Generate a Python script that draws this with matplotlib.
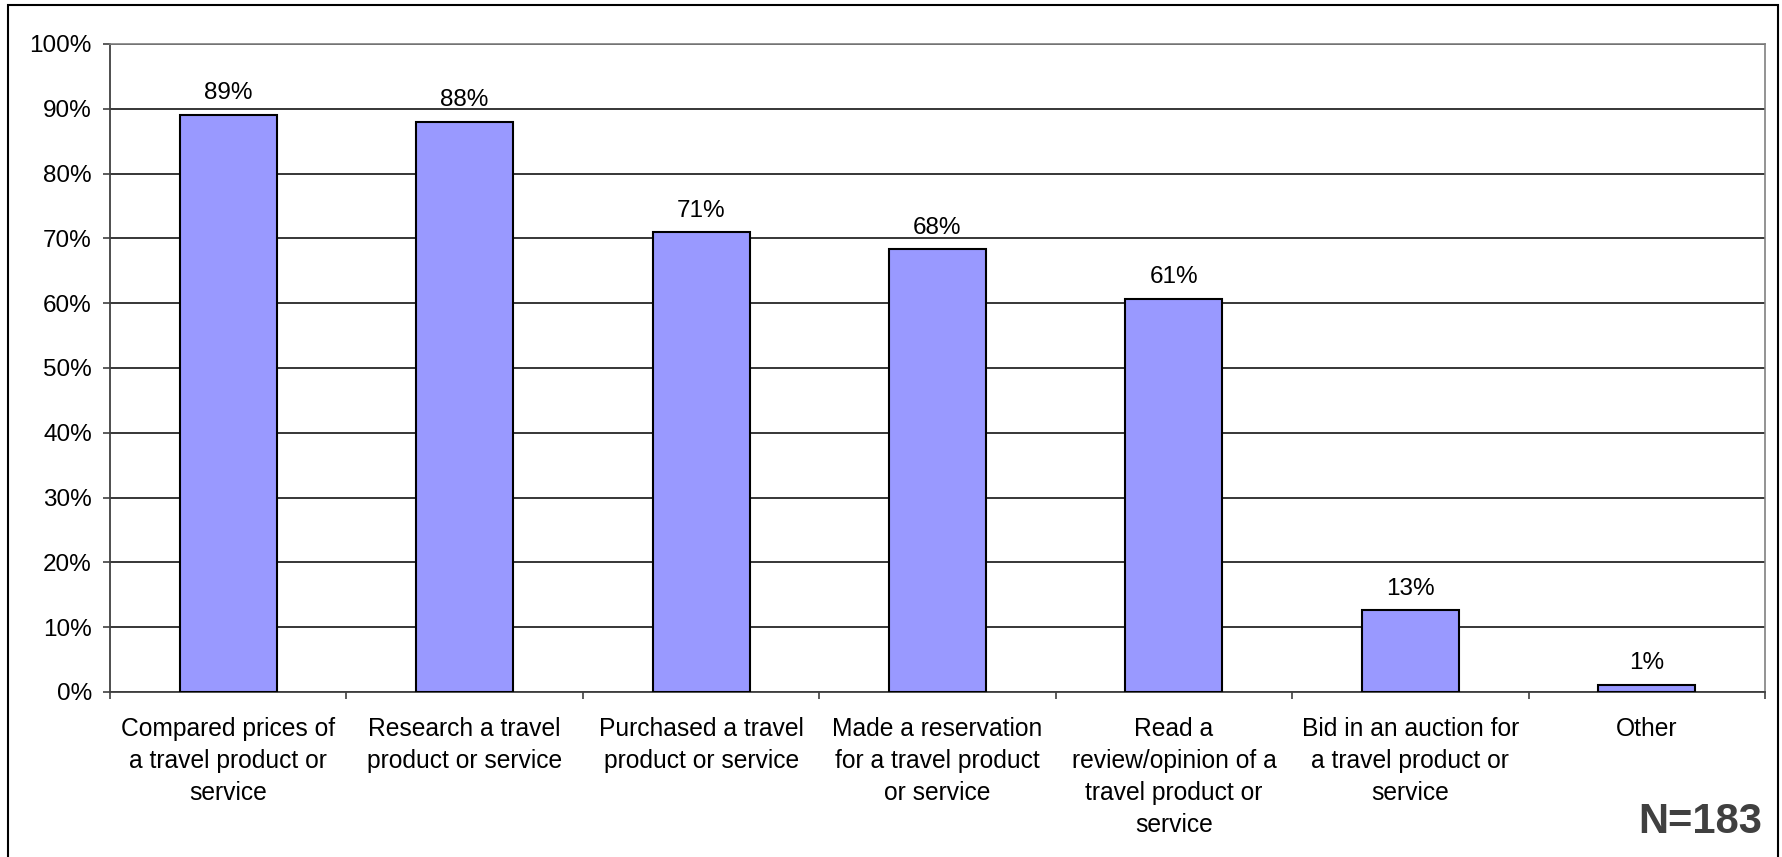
import matplotlib
matplotlib.use("Agg")
import matplotlib.pyplot as plt
from matplotlib.patches import Rectangle
from matplotlib.ticker import FixedLocator, PercentFormatter

plt.rcParams['font.family'] = ['Liberation Sans', 'DejaVu Sans']

categories = [
    "Compared prices of\na travel product or\nservice",
    "Research a travel\nproduct or service",
    "Purchased a travel\nproduct or service",
    "Made a reservation\nfor a travel product\nor service",
    "Read a\nreview/opinion of a\ntravel product or\nservice",
    "Bid in an auction for\na travel product or\nservice",
    "Other",
]
values = [89.1, 88.0, 71.0, 68.3, 60.7, 12.6, 1.1]
y_ticks = [0, 10, 20, 30, 40, 50, 60, 70, 80, 90, 100]
sample_note = "N=183"

W, H = 1782, 857
fig = plt.figure(figsize=(W / 100, H / 100), dpi=100)
ax = fig.add_axes([110 / W, 1 - 692 / H, (1765 - 110) / W, (692 - 44) / H])

x = list(range(len(categories)))
ax.bar(x, values, width=0.41, color="#9999FF", edgecolor="black",
       linewidth=1.5, zorder=3)

for xi, v in zip(x, values):
    ax.annotate(f"{v:.0f}%", (xi, v), xytext=(0, 7.5), textcoords="offset points",
                ha="center", va="bottom", fontsize=17.5, color="black")

ax.set_xlim(-0.5, len(categories) - 0.5)
ax.set_ylim(0, 100)
ax.set_yticks(y_ticks)
ax.yaxis.set_major_formatter(PercentFormatter(decimals=0))
ax.grid(axis="y", color="black", linewidth=1.1, zorder=0)

ax.set_xticks(x)
ax.set_xticklabels(categories, fontsize=17.7, linespacing=1.42)
ax.xaxis.set_minor_locator(FixedLocator([i - 0.5 for i in range(len(categories) + 1)]))
ax.tick_params(axis="x", which="major", length=0, pad=18)
ax.tick_params(axis="x", which="minor", length=5, width=1.2, color="#404040")
ax.tick_params(axis="y", length=5, width=1.2, pad=8, labelsize=17.5, color="#404040")

for side in ("top", "right"):
    ax.spines[side].set_color("#808080")
    ax.spines[side].set_linewidth(1.2)
for side in ("left", "bottom"):
    ax.spines[side].set_color("#404040")
    ax.spines[side].set_linewidth(1.3)

# outer chart frame
fig.patches.append(Rectangle((8 / W, -0.01), (1778 - 8) / W, 1 - 5 / H + 0.01,
                             transform=fig.transFigure, fill=False,
                             edgecolor="black", linewidth=1.5))

fig.text(1762 / W, 1 - 833 / H, sample_note, ha="right", va="baseline",
         fontsize=30, fontweight="bold", color="#404040")

fig.savefig("out.png", dpi=100)
